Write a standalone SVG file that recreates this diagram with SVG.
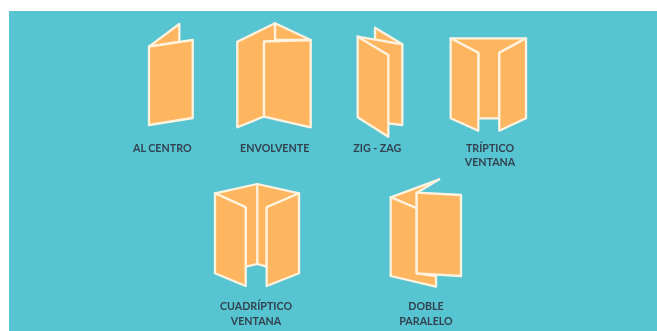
<svg xmlns="http://www.w3.org/2000/svg" width="657" height="331" viewBox="0 0 657 331">
<style>
.p{fill:#fdb65f;stroke:#fff3e0;stroke-width:2.300;stroke-linejoin:round}
.t{font-family:"Lato","Open Sans",sans-serif;font-size:10.700px;font-weight:700;fill:#33424f;text-anchor:middle}
.n{filter:url(#soft)}
</style>
<defs><filter id="soft" x="-10%" y="-10%" width="120%" height="120%"><feGaussianBlur stdDeviation="0.35"/></filter></defs>
<rect width="657" height="331" fill="#fff"/>
<rect x="9" y="11" width="648" height="320" fill="#57c4d2"/>
<g id="al-centro" class="n">
<path class="p" d="M149 46.700L179.300 24V42Z"/>
<path class="p" d="M149 46.700L192.700 40V118L149 125Z"/>
<text class="t" x="162.300" y="152">AL CENTRO</text>
</g>
<g id="envolvente" class="n">
<path class="p" d="M275 23.300L310.700 40H275Z"/>
<path class="p" d="M237.300 41.700L275 23.300V41L264 41.700V116.500L237.300 127.300Z"/>
<path class="p" d="M264 41.700L310.700 40V127.300L264 116.700Z"/>
<text class="t" x="274.700" y="152">ENVOLVENTE</text>
</g>
<g id="zig-zag" class="n">
<path class="p" d="M375 27.700L402.300 44.300L375 40Z"/>
<path class="p" d="M357.700 36.700L402.300 44.300V125L388.300 123.300Z"/>
<path class="p" d="M357.700 36.700L388.300 55V136.700L357.700 117.300Z"/>
<text class="t" x="377.300" y="152">ZIG - ZAG</text>
</g>
<g id="triptico-ventana" class="n">
<path class="p" d="M450.700 38.300H526L499.300 52.700V118.300H478.300V52.700Z"/>
<path class="p" d="M450.700 38.300L478.300 52.700V130.700L450.700 118.300Z"/>
<path class="p" d="M526 38.300L499.300 52.700V130.700L526 118.300Z"/>
<text class="t" x="490" y="152">TRÍPTICO</text>
<text class="t" x="490" y="166">VENTANA</text>
</g>
<g id="cuadriptico-ventana" class="n">
<path class="p" d="M215 193.300L257.300 184L299 193.300L266.700 207.300V266.700L257.300 264L245.700 266.700V207.300Z"/>
<path class="p" d="M257.300 184V264"/>
<path class="p" d="M215 193.300L245.700 207.300V286L215 273.300Z"/>
<path class="p" d="M299 193.300L266.700 207.300V286L299 273.300Z"/>
<text class="t" x="256" y="310">CUADRÍPTICO</text>
<text class="t" x="256" y="325">VENTANA</text>
</g>
<g id="doble-paralelo" class="n">
<path class="p" d="M390.700 197.300L439.300 179.300L416.700 192.700V208.300Z"/>
<path class="p" d="M390.700 197.300L416.700 208.300V273.300L436 276V286.700L390.700 276Z"/>
<path class="p" d="M416.700 192.700L461 195V276L416.700 273.300Z"/>
<text class="t" x="426" y="310">DOBLE</text>
<text class="t" x="426" y="325">PARALELO</text>
</g>
</svg>
